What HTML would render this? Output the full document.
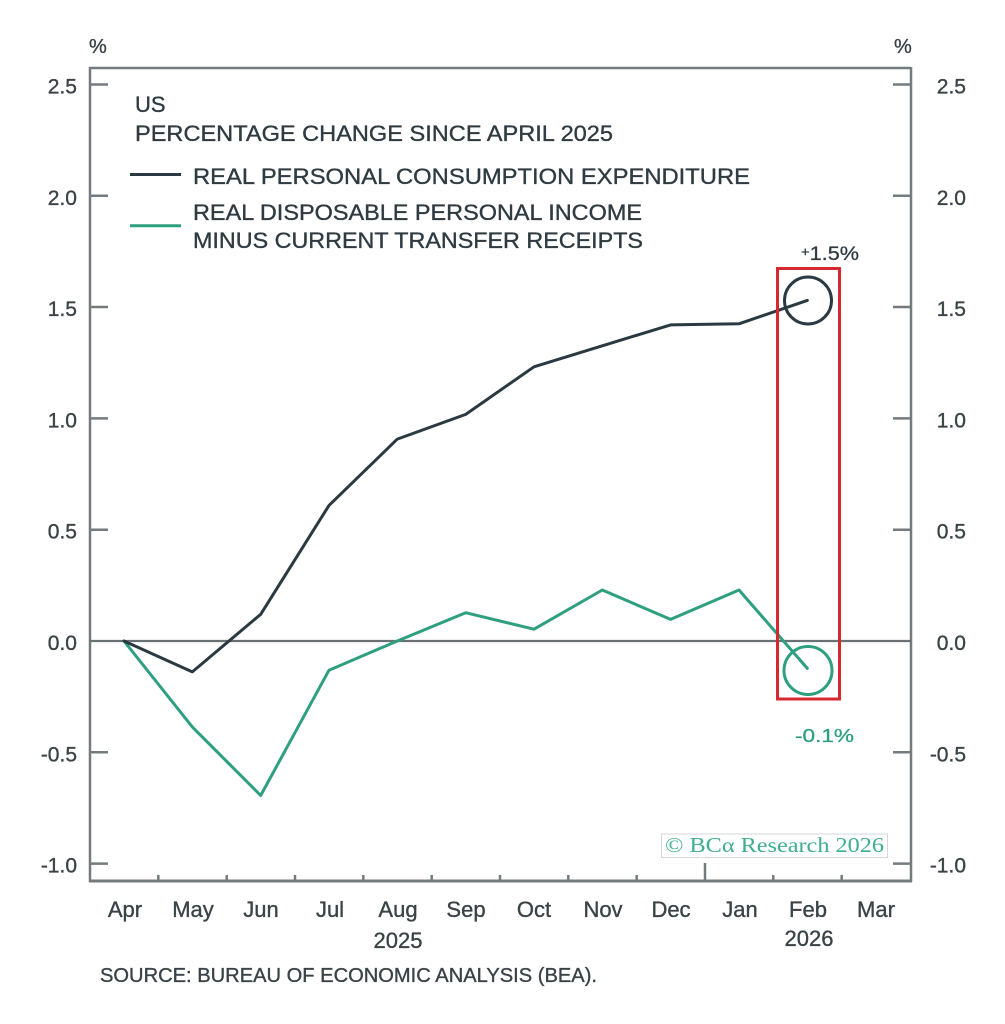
<!DOCTYPE html>
<html>
<head>
<meta charset="utf-8">
<style>
  html, body { margin: 0; padding: 0; background: #ffffff; }
  body { width: 1005px; height: 1024px; overflow: hidden; }
  svg { display: block; }
  .lab { font-family: "Liberation Sans", "DejaVu Sans", sans-serif; fill: #3a4347; stroke: #3a4347; stroke-width: 0.35; }
  .leg { font-family: "Liberation Sans", "DejaVu Sans", sans-serif; fill: #2f3b41; stroke: #2f3b41; stroke-width: 0.35; font-size: 22px; }
</style>
</head>
<body>
<svg width="1005" height="1024" viewBox="0 0 1005 1024" xmlns="http://www.w3.org/2000/svg">
  <rect x="0" y="0" width="1005" height="1024" fill="#ffffff"/>

  <!-- Frame -->
  <g stroke="#737b7f" stroke-width="2.5" fill="none">
    <line x1="90" y1="68" x2="911" y2="68"/>
    <line x1="90" y1="67" x2="90" y2="882"/>
    <line x1="911" y1="67" x2="911" y2="882"/>
    <line x1="89" y1="881" x2="912" y2="881" stroke-width="3"/>
  </g>

  <!-- Y ticks -->
  <g stroke="#737b7f" stroke-width="2.5">
    <line x1="90" y1="84.5" x2="108" y2="84.5"/>
    <line x1="90" y1="195.8" x2="108" y2="195.8"/>
    <line x1="90" y1="307" x2="108" y2="307"/>
    <line x1="90" y1="418.4" x2="108" y2="418.4"/>
    <line x1="90" y1="529.7" x2="108" y2="529.7"/>
    <line x1="90" y1="752.3" x2="108" y2="752.3"/>
    <line x1="90" y1="863.6" x2="108" y2="863.6"/>
    <line x1="893" y1="84.5" x2="911" y2="84.5"/>
    <line x1="893" y1="195.8" x2="911" y2="195.8"/>
    <line x1="893" y1="307" x2="911" y2="307"/>
    <line x1="893" y1="418.4" x2="911" y2="418.4"/>
    <line x1="893" y1="529.7" x2="911" y2="529.7"/>
    <line x1="893" y1="752.3" x2="911" y2="752.3"/>
    <line x1="893" y1="863.6" x2="911" y2="863.6"/>
  </g>

  <!-- X ticks -->
  <g stroke="#737b7f" stroke-width="2.5">
    <line x1="158.3" y1="875" x2="158.3" y2="881"/>
    <line x1="226.7" y1="875" x2="226.7" y2="881"/>
    <line x1="295" y1="875" x2="295" y2="881"/>
    <line x1="363.3" y1="875" x2="363.3" y2="881"/>
    <line x1="431.7" y1="875" x2="431.7" y2="881"/>
    <line x1="500" y1="875" x2="500" y2="881"/>
    <line x1="568.3" y1="875" x2="568.3" y2="881"/>
    <line x1="636.7" y1="875" x2="636.7" y2="881"/>
    <line x1="705" y1="863" x2="705" y2="881"/>
    <line x1="773.3" y1="875" x2="773.3" y2="881"/>
    <line x1="841.7" y1="875" x2="841.7" y2="881"/>
  </g>

  <!-- Zero line -->
  <line x1="90" y1="641" x2="911" y2="641" stroke="#6a7175" stroke-width="2.2"/>

  <!-- Y labels left -->
  <g class="lab" font-size="21" text-anchor="end">
    <text x="77" y="93.5">2.5</text>
    <text x="77" y="204.8">2.0</text>
    <text x="77" y="316">1.5</text>
    <text x="77" y="427.4">1.0</text>
    <text x="77" y="538.7">0.5</text>
    <text x="77" y="650">0.0</text>
    <text x="77" y="761.3">-0.5</text>
    <text x="77" y="872.6">-1.0</text>
  </g>
  <!-- Y labels right -->
  <g class="lab" font-size="21" text-anchor="end">
    <text x="966" y="93.5">2.5</text>
    <text x="966" y="204.8">2.0</text>
    <text x="966" y="316">1.5</text>
    <text x="966" y="427.4">1.0</text>
    <text x="966" y="538.7">0.5</text>
    <text x="966" y="650">0.0</text>
    <text x="966" y="761.3">-0.5</text>
    <text x="966" y="872.6">-1.0</text>
  </g>

  <!-- % units -->
  <text class="lab" x="89" y="53" font-size="20">%</text>
  <text class="lab" x="894" y="53" font-size="20">%</text>

  <!-- X labels -->
  <g class="lab" font-size="22" text-anchor="middle">
    <text x="125" y="917">Apr</text>
    <text x="193" y="917">May</text>
    <text x="261" y="917">Jun</text>
    <text x="330" y="917">Jul</text>
    <text x="398" y="917">Aug</text>
    <text x="466" y="917">Sep</text>
    <text x="534" y="917">Oct</text>
    <text x="603" y="917">Nov</text>
    <text x="671" y="917">Dec</text>
    <text x="740" y="917">Jan</text>
    <text x="808" y="917">Feb</text>
    <text x="876" y="917">Mar</text>
    <text x="398" y="948">2025</text>
    <text x="809" y="946">2026</text>
  </g>

  <!-- Source -->
  <text class="lab" x="100" y="982" font-size="20" textLength="497" lengthAdjust="spacingAndGlyphs" fill="#3f484c">SOURCE: BUREAU OF ECONOMIC ANALYSIS (BEA).</text>

  <!-- Legend -->
  <text class="leg" x="135" y="112">US</text>
  <text class="leg" x="135" y="141" textLength="478" lengthAdjust="spacingAndGlyphs">PERCENTAGE CHANGE SINCE APRIL 2025</text>
  <line x1="130" y1="174.5" x2="181" y2="174.5" stroke="#2b3a40" stroke-width="3"/>
  <text class="leg" x="193" y="184" textLength="557" lengthAdjust="spacingAndGlyphs">REAL PERSONAL CONSUMPTION EXPENDITURE</text>
  <line x1="130" y1="225.7" x2="181" y2="225.7" stroke="#2e9f7f" stroke-width="3"/>
  <text class="leg" x="193" y="220" textLength="449" lengthAdjust="spacingAndGlyphs">REAL DISPOSABLE PERSONAL INCOME</text>
  <text class="leg" x="193" y="248" textLength="450" lengthAdjust="spacingAndGlyphs">MINUS CURRENT TRANSFER RECEIPTS</text>

  <!-- Copyright -->
  <rect x="661.5" y="834" width="226" height="23.5" fill="#ffffff" stroke="#d4d8d8" stroke-width="1"/>
  <text x="665" y="852" font-family="'Liberation Serif', 'DejaVu Serif', serif" font-size="21" fill="#3fae8c" textLength="219" lengthAdjust="spacingAndGlyphs">© BCα Research 2026</text>

  <!-- Series: green -->
  <polyline fill="none" stroke="#2e9f7f" stroke-width="3" stroke-linejoin="round" stroke-linecap="round"
    points="124,641 192.3,726.9 260.7,795.5 329,670.2 397.3,641 465.7,612.7 534,629.2 602.3,590 670.6,619.4 739,590 807.3,668.4"/>
  <!-- Series: dark -->
  <polyline fill="none" stroke="#2b3a40" stroke-width="3" stroke-linejoin="round" stroke-linecap="round"
    points="124,641 192.3,671.9 260.7,614.3 329,505.4 397.3,439.1 465.7,414.4 534,366.8 602.3,345.8 670.6,324.9 739,323.8 807.3,300.4"/>

  <!-- Highlight circles -->
  <circle cx="808" cy="300.5" r="23.5" fill="none" stroke="#2b3a40" stroke-width="3"/>
  <circle cx="808" cy="670.5" r="24" fill="none" stroke="#2e9f7f" stroke-width="3"/>

  <!-- Red box -->
  <rect x="777.5" y="268.5" width="62" height="430.5" fill="none" stroke="#d7282f" stroke-width="3"/>

  <!-- Annotations -->
  <text x="801" y="260" font-family="'Liberation Sans', 'DejaVu Sans', sans-serif" font-size="19" fill="#2f3b41" stroke="#2f3b41" stroke-width="0.3" textLength="58" lengthAdjust="spacingAndGlyphs"><tspan font-size="13" dy="-4">+</tspan><tspan dy="4">1.5%</tspan></text>
  <text x="795" y="742" font-family="'Liberation Sans', 'DejaVu Sans', sans-serif" font-size="18" fill="#2e9f7f" stroke="#2e9f7f" stroke-width="0.3" textLength="59" lengthAdjust="spacingAndGlyphs">-0.1%</text>
</svg>
</body>
</html>
